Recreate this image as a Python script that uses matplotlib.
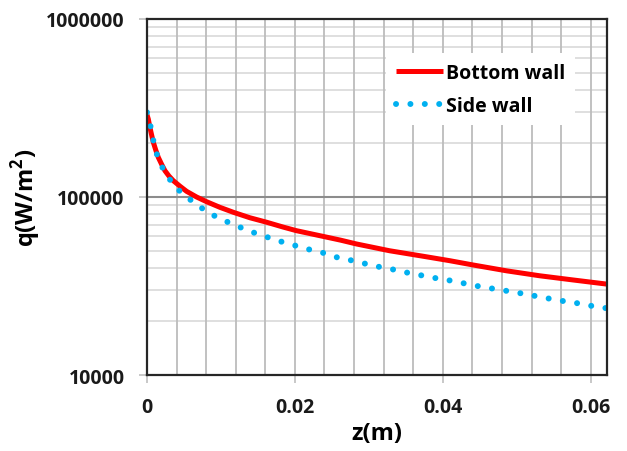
import matplotlib.pyplot as plt
from matplotlib.ticker import FixedLocator, NullFormatter
import numpy as np

# heat flux along the wall
z_bottom = [0.0, 0.00018, 0.0004, 0.00063, 0.00086, 0.00117, 0.00153, 0.00198,
            0.00243, 0.00297, 0.00356, 0.00446, 0.00536, 0.00671, 0.00806, 0.00986,
            0.0117, 0.0139, 0.0162, 0.0184, 0.0202, 0.0238, 0.0262, 0.0283, 0.0328,
            0.0373, 0.0409, 0.0441, 0.0486, 0.0531, 0.0576, 0.0622]
q_bottom = [290000, 274000, 246000, 223000, 203000, 184500, 167000, 152700,
            140500, 131200, 123500, 115000, 107600, 100000, 94100, 87500,
            82000, 76500, 72100, 67800, 64700, 60100, 57200, 54500, 49900,
            46500, 43900, 41500, 38500, 36100, 34200, 32400]

z_side = [0.0, 0.0004, 0.00077, 0.0012, 0.0019, 0.0029, 0.0041, 0.0056, 0.0071,
          0.0088, 0.0106, 0.0124, 0.0142, 0.0161, 0.0180, 0.0198, 0.0217, 0.0236,
          0.0253, 0.0272, 0.0291, 0.0310, 0.0330, 0.0349, 0.0368, 0.0387, 0.0406,
          0.0426, 0.0445, 0.0465, 0.0484, 0.0503, 0.0523, 0.0541, 0.0561, 0.0580,
          0.0600, 0.0622]
q_side = [299000, 260000, 216000, 180000, 151000, 128400, 110900, 98400, 88300,
          79600, 73300, 68100, 63600, 59800, 56400, 53700, 51000, 48900,
          46200, 44500, 42600, 40800, 39400, 37800, 36500, 35200, 34200,
          32900, 31700, 30700, 29800, 28900, 27900, 27000, 26100, 25400,
          24500, 23700]

x_ticks = [0, 0.02, 0.04, 0.06]
x_labels = ['0', '0.02', '0.04', '0.06']
y_ticks = [1e4, 1e5, 1e6]
y_labels = ['10000', '100000', '1000000']

plt.rcParams['font.family'] = ['Open Sans', 'DejaVu Sans']
plt.rcParams['mathtext.fontset'] = 'custom'
plt.rcParams['mathtext.bf'] = 'Open Sans:bold'
plt.rcParams['mathtext.rm'] = 'Open Sans'

fig = plt.figure(figsize=(6.27, 4.52), dpi=100)
ax = fig.add_axes([0.2344, 0.1681, 0.7337, 0.7877])

ax.set_yscale('log')
ax.set_xlim(0, 0.0622)
ax.set_ylim(1e4, 1e6)

# grid
minor_y = [m * 10 ** e for e in (4, 5) for m in range(2, 10)]
for v in minor_y:
    ax.axhline(v, color='#d9d9d9', lw=1.2, zorder=0)
ax.axhline(1e5, color='#8c8c8c', lw=1.5, zorder=0.5)
for v in np.arange(0.004, 0.0622, 0.004):
    ax.axvline(v, color='#bcbcbc', lw=1.3, zorder=0.3)

ax.plot(z_bottom, q_bottom, color='#ff0000', lw=3.6, solid_capstyle='butt',
        label='Bottom wall', zorder=3)
ax.plot(z_side, q_side, color='#00b0f0', lw=4.3, linestyle=(0, (0.01, 2.4)),
        dash_capstyle='round', label='Side wall', zorder=4)

ax.xaxis.set_major_locator(FixedLocator(x_ticks))
ax.set_xticklabels(x_labels)
ax.yaxis.set_major_locator(FixedLocator(y_ticks))
ax.set_yticklabels(y_labels)
ax.yaxis.set_minor_formatter(NullFormatter())
ax.tick_params(axis='y', which='minor', length=0)
ax.tick_params(axis='both', which='major', length=6, width=1.2, color='#bfbfbf',
               labelsize=14, pad=10)
for lab in ax.get_xticklabels() + ax.get_yticklabels():
    lab.set_fontweight('bold')
    lab.set_color('#1a1a1a')

for s in ax.spines.values():
    s.set_linewidth(1.6)
    s.set_color('#262626')
    s.set_zorder(5)

ax.set_xlabel('z(m)', fontsize=17, fontweight='bold', labelpad=3)
ax.set_ylabel('q(W/m$^{\\mathbf{2}}$)', fontsize=17, fontweight='bold', labelpad=2)

leg = ax.legend(loc='upper left', bbox_to_anchor=(0.52, 0.905), frameon=True,
                fancybox=False, edgecolor='none', facecolor='white', framealpha=1,
                prop={'weight': 'bold', 'size': 14}, handlelength=2.4,
                handletextpad=0.2, borderpad=0.5, labelspacing=0.68,
                borderaxespad=0)
leg.set_zorder(6)

plt.savefig('out.png', dpi=100)
